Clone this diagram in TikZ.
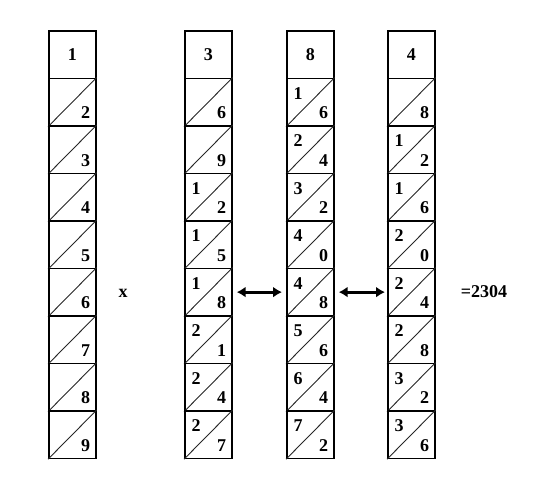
\documentclass[tikz,border=0pt]{standalone}
\usepackage{fontspec}
\setmainfont{Liberation Serif}
\usetikzlibrary{arrows.meta}
\begin{document}
\begin{tikzpicture}[x=1pt,y=-1pt,
  cell/.style={draw=black,line width=1.7pt,minimum width=47pt,minimum height=47.5pt,inner sep=0pt,anchor=north west},
  diag/.style={draw=black!85,line width=0.9pt},
  dig/.style={font=\fontsize{18}{20}\selectfont\bfseries,inner sep=0pt},
  dbl/.style={line width=3pt,{Latex[length=9pt,width=11pt]}-{Latex[length=9pt,width=11pt]}}]
\useasboundingbox (0,0) rectangle (535,480);
% column 1
\node[cell] (a0) at (48,30) {};
\node[dig] at (a0.center) {1};
\foreach \i in {1,...,8}{
  \pgfmathtruncatemacro{\v}{\i+1}
  \node[cell] (a\i) at (48,30+47.5*\i) {};
  \draw[diag] (a\i.south west) -- (a\i.north east);
  \node[dig] at ([xshift=-11pt,yshift=14pt]a\i.south east) {\v};
}
% columns 3, 8, 4
\foreach \c/\x/\n in {b/184/3, c/286/8, d/387/4}{
  \node[cell] (\c0) at (\x,30) {};
  \node[dig] at (\c0.center) {\n};
  \foreach \i in {1,...,8}{
    \pgfmathtruncatemacro{\p}{\n*(\i+1)}
    \pgfmathtruncatemacro{\t}{int(\p/10)}
    \pgfmathtruncatemacro{\u}{\p-10*\t}
    \node[cell] (\c\i) at (\x,30+47.5*\i) {};
    \draw[diag] (\c\i.south west) -- (\c\i.north east);
    \node[dig] at ([xshift=-11pt,yshift=14pt]\c\i.south east) {\u};
    \ifnum\t>0
      \node[dig] at ([xshift=12pt,yshift=-16pt]\c\i.north west) {\t};
    \fi
  }
}
\node[dig] (times) at (123,293) {x};
\node[dig] (res) at (484,292) {=2304};
\draw[dbl] ([xshift=4pt]b5.east) -- ([xshift=-4pt]c5.west);
\draw[dbl] ([xshift=4pt]c5.east) -- ([xshift=-2pt]d5.west);
\end{tikzpicture}
\end{document}
